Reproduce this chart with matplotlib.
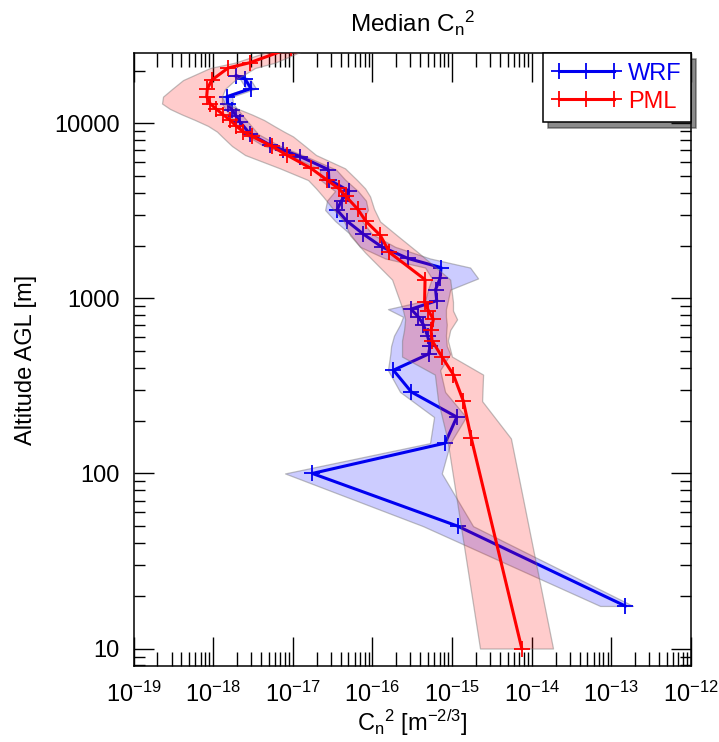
import numpy as np
import matplotlib
matplotlib.use("Agg")
import matplotlib.pyplot as plt
from matplotlib.ticker import FixedLocator, LogLocator, NullFormatter

plt.rcParams['font.family'] = ['Liberation Sans', 'DejaVu Sans']
plt.rcParams['mathtext.fontset'] = 'custom'
plt.rcParams['mathtext.rm'] = 'Liberation Sans'
plt.rcParams['mathtext.it'] = 'Liberation Sans:italic'
plt.rcParams['mathtext.default'] = 'regular'

# ____________________________________________________________
# PML median profile (altitude in m, Cn2 in m^-2/3) and band edges
pml_alt = [27000, 22200, 20700, 17650, 15700, 14200, 12970, 12080, 11220, 10440,
           9660, 8960, 8410, 7410, 6590, 5530, 4740, 4250, 3820, 3240,
           2750, 2290, 1830, 1280, 953, 851, 759, 659, 574, 465,
           367, 259, 158.5, 10]
pml_cn2 = [9.5e-18, 2.9e-18, 1.54e-18, 9.6e-19, 8.45e-19, 8.3e-19, 9.15e-19, 1.09e-18, 1.33e-18, 1.63e-18,
           1.94e-18, 2.39e-18, 3.08e-18, 5.45e-18, 8.4e-18, 1.7e-17, 2.7e-17, 3.76e-17, 4.67e-17, 6.52e-17,
           8.33e-17, 1.26e-16, 1.64e-16, 4.59e-16, 4.53e-16, 5.06e-16, 5.84e-16, 5.46e-16, 5.62e-16, 7.45e-16,
           1.04e-15, 1.39e-15, 1.75e-15, 7.53e-15]
pml_lo = [6.9e-18, 1.88e-18, 9.15e-19, 4.19e-19, 3.05e-19, 2.35e-19, 2.28e-19, 2.87e-19, 4.07e-19, 5.93e-19,
          8.63e-19, 1.12e-18, 1.29e-18, 1.73e-18, 2.52e-18, 6.9e-18, 1.56e-17, 1.96e-17, 2.4e-17, 3.21e-17,
          4.41e-17, 5.25e-17, 8.1e-17, 1.77e-16, 2.23e-16, 2.43e-16, 2.58e-16, 2.5e-16, 2.36e-16, 2.36e-16,
          6.1e-16, 6.7e-16, 8.7e-16, 2.25e-15]
pml_hi = [1.65e-17, 6.0e-18, 3.36e-18, 1.88e-18, 1.41e-18, 1.29e-18, 1.41e-18, 2.06e-18, 3.08e-18, 4.36e-18,
          5.82e-18, 7.78e-18, 1.01e-17, 1.43e-17, 1.96e-17, 4.54e-17, 6.43e-17, 8.1e-17, 9.36e-17, 1.05e-16,
          1.25e-16, 2.04e-16, 3.75e-16, 9.5e-16, 1.03e-15, 1.03e-15, 1.16e-15, 9.5e-16, 8.9e-16, 1.0e-15,
          2.46e-15, 2.39e-15, 5.5e-15, 1.86e-14]

# WRF median profile and band edges
wrf_alt = [18750, 17900, 15800, 14200, 12970, 11920, 11020, 10170, 8690, 7520,
           7030, 6460, 5440, 4770, 4100, 3620, 3200, 2770, 2330, 1970,
           1690, 1500, 1300, 1122, 970, 868, 785, 709, 612, 534,
           481, 389, 292, 210, 149, 100, 50, 17.5]
wrf_cn2 = [1.94e-18, 2.52e-18, 2.99e-18, 1.5e-18, 1.52e-18, 1.73e-18, 1.94e-18, 2.18e-18, 2.91e-18, 5.19e-18,
           7.55e-18, 1.24e-17, 2.8e-17, 2.84e-17, 5.09e-17, 4.1e-17, 3.6e-17, 4.77e-17, 7.7e-17, 1.31e-16,
           2.81e-16, 7.29e-16, 7.08e-16, 6.22e-16, 6.44e-16, 3.06e-16, 3.78e-16, 4.37e-16, 4.93e-16, 5.31e-16,
           5.08e-16, 1.84e-16, 3.09e-16, 1.15e-15, 8.19e-16, 1.76e-17, 1.18e-15, 1.5e-13]
wrf_lo = [1.73e-18, 2.18e-18, 2.59e-18, 1.29e-18, 1.29e-18, 1.45e-18, 1.63e-18, 1.83e-18, 2.44e-18, 4.11e-18,
          6.17e-18, 9.8e-18, 2.2e-17, 2.2e-17, 3.4e-17, 2.7e-17, 2.55e-17, 3.4e-17, 5.25e-17, 7.0e-17,
          1.45e-16, 4.6e-16, 5.6e-16, 5.0e-16, 4.6e-16, 1.57e-16, 2.43e-16, 2.23e-16, 1.87e-16, 1.72e-16,
          1.68e-16, 1.57e-16, 2.23e-16, 5.96e-16, 5.3e-16, 8.0e-18, 4.33e-16, 7.26e-14]
wrf_hi = [2.18e-18, 2.91e-18, 3.46e-18, 1.73e-18, 1.78e-18, 2.06e-18, 2.37e-18, 2.74e-18, 3.66e-18, 6.54e-18,
          9.25e-18, 1.47e-17, 3.5e-17, 4.54e-17, 6.6e-17, 8.3e-17, 8.8e-17, 7.4e-17, 9.9e-17, 1.93e-16,
          5.3e-16, 1.69e-15, 2.13e-15, 9.5e-16, 8.9e-16, 8.4e-16, 8.4e-16, 8.6e-16, 8.4e-16, 8.6e-16,
          9.5e-16, 7.1e-16, 8.2e-16, 1.5e-15, 9.5e-16, 7.45e-16, 1.84e-15, 1.88e-13]

xtick_vals = [1e-19, 1e-18, 1e-17, 1e-16, 1e-15, 1e-14, 1e-13, 1e-12]
xtick_labels = [r'10$^{-19}$', r'10$^{-18}$', r'10$^{-17}$', r'10$^{-16}$',
                r'10$^{-15}$', r'10$^{-14}$', r'10$^{-13}$', r'10$^{-12}$']
ytick_vals = [10, 100, 1000, 10000]
ytick_labels = ['10', '100', '1000', '10000']

# ____________________________________________________________
# plot

fig = plt.figure(figsize=(7.19, 7.42), dpi=100)
ax = fig.add_axes([0.1857, 0.1024, 0.7751, 0.8258])

ax.fill_betweenx(wrf_alt, wrf_lo, wrf_hi, facecolor=(0, 0, 1, 0.2),
                 edgecolor=(0.45, 0.45, 0.45, 0.45), linewidth=0.9, zorder=1)
ax.plot(wrf_cn2, wrf_alt, color='#0000f0', lw=2.2, marker='+', ms=11, mew=1.3,
        label='WRF', zorder=2)
ax.fill_betweenx(pml_alt, pml_lo, pml_hi, facecolor=(1, 0, 0, 0.2),
                 edgecolor=(0.45, 0.45, 0.45, 0.45), linewidth=0.9, zorder=3)
ax.plot(pml_cn2, pml_alt, color='#ff0000', lw=2.2, marker='+', ms=11, mew=1.3,
        label='PML', zorder=4)

ax.set_xscale('log')
ax.set_yscale('log')
ax.set_xlim(1e-19, 1e-12)
ax.set_ylim(10 ** 0.9, 10 ** 4.4)

ax.xaxis.set_major_locator(FixedLocator(xtick_vals))
ax.set_xticks(xtick_vals, xtick_labels)
ax.xaxis.set_minor_locator(LogLocator(base=10, subs=np.arange(2, 10), numticks=20))
ax.xaxis.set_minor_formatter(NullFormatter())
ax.set_yticks(ytick_vals, ytick_labels)
ax.yaxis.set_minor_locator(LogLocator(base=10, subs=np.arange(2, 10), numticks=20))
ax.yaxis.set_minor_formatter(NullFormatter())

ax.tick_params(which='both', direction='in', top=True, right=True, width=1.0)
ax.tick_params(axis='x', which='major', length=21, pad=11, labelsize=17)
ax.tick_params(axis='x', which='minor', length=10)
ax.tick_params(axis='y', which='major', length=14.5, pad=10, labelsize=17)
ax.tick_params(axis='y', which='minor', length=7.7)
for s in ax.spines.values():
    s.set_linewidth(1.1)

ax.set_xlabel(r'C$_\mathrm{n}{}^2$ [m$^{-2/3}$]', fontsize=17)
ax.xaxis.set_label_coords(0.5, -0.068)
ax.set_ylabel('Altitude AGL [m]', fontsize=17)
ax.yaxis.set_label_coords(-0.173, 0.5)
ax.set_title(r'Median C$_\mathrm{n}{}^2$', fontsize=17.5, pad=15)

leg = ax.legend(loc='upper right', bbox_to_anchor=(1.0, 1.0), borderaxespad=0,
                fontsize=17, handlelength=2.9, handletextpad=0.3, borderpad=0.4,
                labelspacing=0.25, numpoints=3, fancybox=False, framealpha=1,
                edgecolor='black', shadow={'ox': 4, 'oy': -4, 'shade': 0.9})
leg.get_frame().set_linewidth(1.1)
for txt, col in zip(leg.get_texts(), ['#0000f0', '#ff0000']):
    txt.set_color(col)

fig.savefig('out.png', dpi=100)
